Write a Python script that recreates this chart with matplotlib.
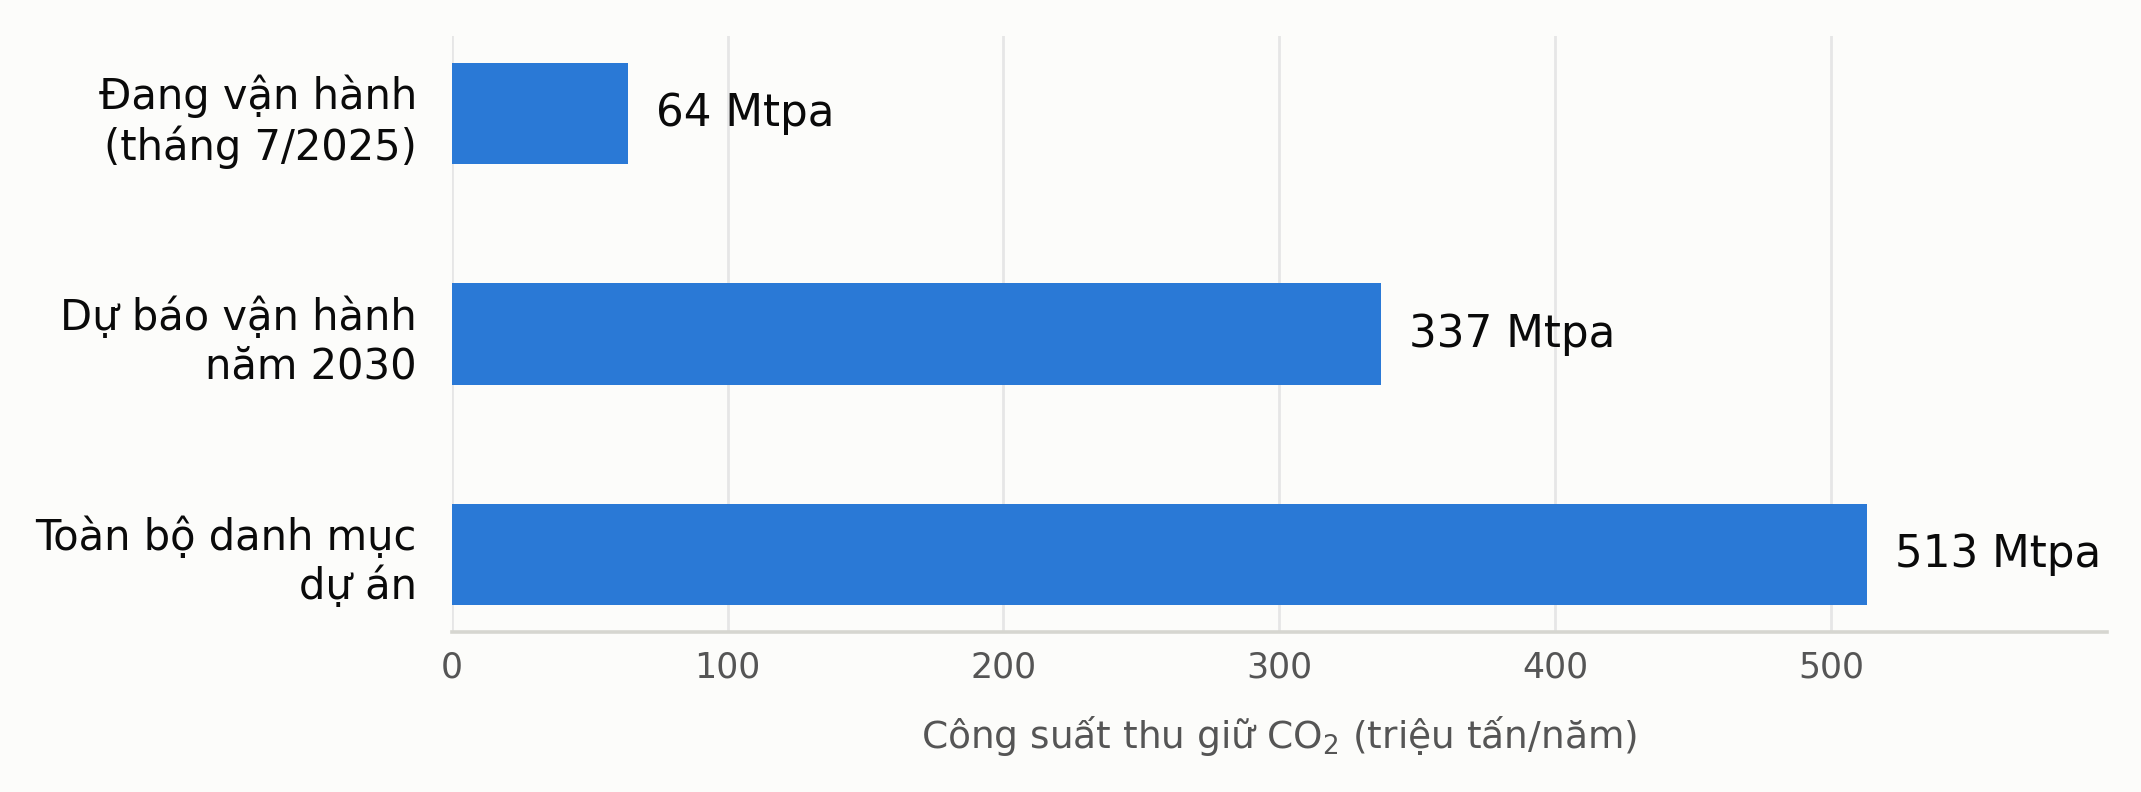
import matplotlib
matplotlib.use("Agg")
import matplotlib.pyplot as plt

categories = ["Đang vận hành\n(tháng 7/2025)",
              "Dự báo vận hành\nnăm 2030",
              "Toàn bộ danh mục\ndự án"]
values = [64, 337, 513]
value_labels = ["64 Mtpa", "337 Mtpa", "513 Mtpa"]
xticks = [0, 100, 200, 300, 400, 500]
xlabel = "Công suất thu giữ CO$_2$ (triệu tấn/năm)"

plt.rcParams['font.family'] = ['DejaVu Sans']
plt.rcParams['mathtext.default'] = 'regular'

bg = "#FCFCFA"
fig = plt.figure(figsize=(10.705, 3.96), dpi=200, facecolor=bg)
ax = fig.add_axes([451.7/2141, 1 - 632.3/792, (2107 - 451.7)/2141, (632.3 - 36)/792])
ax.set_facecolor(bg)

pos = list(range(len(categories)))
ax.barh(pos, values, height=0.46, color="#2A79D6", zorder=2)
for p, v, t in zip(pos, values, value_labels):
    ax.text(v + 10, p, t, ha="left", va="center", fontsize=15.7, color="#0A0A0A", zorder=3)

ax.set_yticks(pos)
ax.set_yticklabels(categories, fontsize=15, color="#0A0A0A")
ax.invert_yaxis()
ax.set_xlim(0, 600)
ax.set_xticks(xticks)
ax.set_xticklabels([str(x) for x in xticks], fontsize=12.5, color="#555555")
ax.tick_params(axis="y", length=0, pad=12.5)
ax.tick_params(axis="x", length=0, pad=6.5)
ax.set_xlabel(xlabel, fontsize=13.5, color="#555555", labelpad=10.5)

ax.grid(axis="x", color="#E6E6E6", linewidth=1.0, zorder=0)
ax.set_axisbelow(True)
for s in ["top", "right", "left"]:
    ax.spines[s].set_visible(False)
ax.spines["bottom"].set_color("#D6D6D0")
ax.spines["bottom"].set_linewidth(1.3)

fig.savefig("out.png", dpi=200, facecolor=bg)
